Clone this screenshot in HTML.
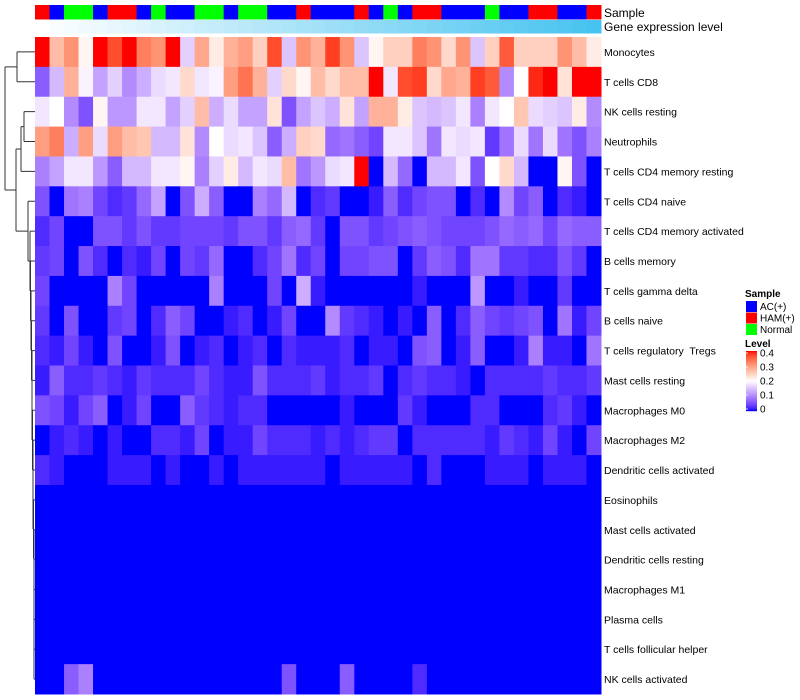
<!DOCTYPE html>
<html><head><meta charset="utf-8"><style>
body{margin:0;background:#fff;}
svg{display:block;font-family:"Liberation Sans",sans-serif;}
text{white-space:pre;}
</style></head><body>
<svg id="chart" width="800" height="700" xmlns="http://www.w3.org/2000/svg"></svg>
<script>
const rowLabels=["Monocytes","T cells CD8","NK cells resting","Neutrophils","T cells CD4 memory resting","T cells CD4 naive","T cells CD4 memory activated","B cells memory","T cells gamma delta","B cells naive","T cells regulatory  Tregs","Mast cells resting","Macrophages M0","Macrophages M2","Dendritic cells activated","Eosinophils","Mast cells activated","Dendritic cells resting","Macrophages M1","Plasma cells","T cells follicular helper","NK cells activated"];
const sampleGroups=["HAM","AC","N","N","AC","HAM","HAM","AC","N","AC","AC","N","N","AC","N","N","AC","AC","HAM","AC","AC","AC","HAM","AC","N","AC","HAM","HAM","AC","AC","AC","N","AC","AC","HAM","HAM","AC","AC","HAM"];
const legendLevels=[0.4,0.3,0.2,0.1,0];
const legendSamples=["AC(+)","HAM(+)","Normal"];
// values in units of 0.01
const r0=[40,27,31,21,40,37,40,33,31,40,16,29,22,28,30,25,37,15,31,28,38,31,15,21,25,25,33,31,24,31,15,25,36,25,25,25,31,27,22];
const r1=[6,14,28,19,12,16,10,13,17,18,24,18,19,30,34,28,16,24,21,27,24,27,27,40,18,37,38,24,29,28,38,36,10,20,39,40,23,40,40];
const r2=[18,20,10,5,21,11,11,18,18,12,16,27,13,17,12,12,23,5,12,15,13,23,12,28,28,22,15,14,15,18,9,18,20,26,17,16,15,22,10];
const r3=[30,33,13,30,17,30,27,26,14,14,23,10,20,17,18,15,6,13,25,24,7,8,6,4,18,18,15,8,18,17,18,3,8,17,8,17,8,5,9];
const r4=[9,12,18,18,11,6,14,14,18,18,21,9,16,22,14,18,17,27,8,11,17,18,40,0,14,7,0,14,14,18,5,20,24,14,0,0,21,5,0];
const r5=[5,0,8,9,4,2,3,7,12,0,5,13,6,0,0,9,7,14,0,2,3,0,0,1,6,2,4,5,5,0,2,0,10,4,6,0,2,1,0];
const r6=[2,4,0,0,5,5,3,5,3,3,4,4,4,3,5,5,3,6,7,3,0,5,5,3,4,5,6,5,4,4,4,5,7,6,7,4,7,6,6];
const r7=[3,4,0,5,2,0,2,1,4,0,4,3,7,0,0,2,4,8,2,4,0,4,4,5,5,0,3,6,5,2,8,8,3,3,2,2,5,3,0];
const r8=[4,0,0,0,0,9,4,0,0,0,0,0,9,0,0,0,4,0,13,1,0,0,0,0,0,0,1,0,0,0,11,0,0,1,0,0,3,0,0];
const r9=[3,0,5,0,0,3,4,0,2,6,4,0,0,1,2,0,1,4,0,0,10,3,2,1,0,1,0,6,0,2,6,4,3,4,5,0,8,1,4];
const r10=[2,1,4,1,0,5,0,0,1,5,0,1,2,0,1,2,0,2,1,1,1,2,0,1,1,0,5,6,0,1,6,0,0,1,9,1,1,0,8];
const r11=[1,6,2,2,3,2,1,3,2,2,2,4,2,1,1,5,2,2,2,3,1,2,2,3,0,2,3,2,2,1,0,2,2,2,2,3,2,2,3];
const r12=[5,4,1,4,6,0,1,4,0,0,6,3,2,1,2,2,0,0,0,0,0,1,0,0,0,3,1,0,0,0,2,2,0,0,0,2,3,1,0];
const r13=[0,1,2,1,0,1,0,0,2,2,1,4,0,1,1,4,2,2,2,1,2,1,2,3,3,0,2,2,2,2,2,1,3,2,1,4,1,0,4];
const r14=[2,1,0,0,0,1,1,1,0,1,0,0,1,0,1,1,1,1,1,1,0,1,1,1,1,1,0,2,0,0,0,1,1,1,0,1,1,1,0];
const r15=Array(39).fill(0),r16=Array(39).fill(0),r17=Array(39).fill(0),r18=Array(39).fill(0),r19=Array(39).fill(0),r20=Array(39).fill(0);
const r21=[0,0,6,9,0,0,0,0,0,0,0,0,0,0,0,0,0,5,0,0,0,6,0,0,0,0,2,0,0,0,0,0,0,0,0,0,0,0,0];
const values=[r0,r1,r2,r3,r4,r5,r6,r7,r8,r9,r10,r11,r12,r13,r14,r15,r16,r17,r18,r19,r20,r21];

const NS="http://www.w3.org/2000/svg",svg=document.getElementById('chart');
function mk(t,a,p){const e=document.createElementNS(NS,t);for(const k in a)e.setAttribute(k,a[k]);(p||svg).appendChild(e);return e;}
const X0=35,X1=601,Y0=37,Y1=694;
const nC=sampleGroups.length,nR=rowLabels.length;
const cw=(X1-X0)/nC,rh=(Y1-Y0)/nR;
const xPos=i=>X0+i*cw, yPos=j=>Y0+j*rh;
function s2l(c){c/=255;return c<=0.04045?c/12.92:Math.pow((c+0.055)/1.055,2.4);}
function l2s(c){c=c<=0.0031308?12.92*c:1.055*Math.pow(c,1/2.4)-0.055;return Math.max(0,Math.min(255,Math.round(c*255)));}
function toLab(r,g,b){r=s2l(r);g=s2l(g);b=s2l(b);let x=(r*0.4124+g*0.3576+b*0.1805)/0.95047,y=r*0.2126+g*0.7152+b*0.0722,z=(r*0.0193+g*0.1192+b*0.9505)/1.08883;const f=t=>t>0.008856?Math.cbrt(t):7.787*t+16/116;x=f(x);y=f(y);z=f(z);return[116*y-16,500*(x-y),200*(y-z)];}
function fromLab(L,a,b){let y=(L+16)/116,x=a/500+y,z=y-b/200;const g=t=>t*t*t>0.008856?t*t*t:(t-16/116)/7.787;x=g(x)*0.95047;y=g(y);z=g(z)*1.08883;const r=x*3.2406+y*-1.5372+z*-0.4986,gg=x*-0.9689+y*1.8758+z*0.0415,bb=x*0.0557+y*-0.2040+z*1.0570;return`rgb(${l2s(r)},${l2s(gg)},${l2s(bb)})`;}
const cBlue=toLab(0,0,255),cWhite=toLab(255,255,255),cRed=toLab(255,0,0);
function col(v){v=Math.max(0,Math.min(0.4,v));let a,b,t;if(v<0.2){a=cBlue;b=cWhite;t=v/0.2;}else{a=cWhite;b=cRed;t=(v-0.2)/0.2;}return fromLab(a[0]+(b[0]-a[0])*t,a[1]+(b[1]-a[1])*t,a[2]+(b[2]-a[2])*t);}
const groupColor={AC:"#0000ff",HAM:"#ff0000",N:"#00ff00"};
const ga=mk('g',{});

const gb=mk('g',{});

for(let i=0;i<nC;i++){
  const r=mk('rect',{x:xPos(i),y:5,width:cw+0.5,height:14.5,fill:groupColor[sampleGroups[i]]},ga);
  
  const t=i/(nC-1);
  const r2=mk('rect',{x:xPos(i),y:20,width:cw+0.5,height:13.5,fill:`rgb(${Math.round(255-185*t)},${Math.round(255-60*t)},${Math.round(255-15*t)})`},gb);
  
}
let tt=mk('text',{x:604,y:17,'font-size':12,fill:'#000'});tt.textContent='Sample';

tt=mk('text',{x:604,y:31,'font-size':12,fill:'#000'});tt.textContent='Gene expression level';

const gh=mk('g',{});

for(let j=0;j<nR;j++){for(let i=0;i<nC;i++){
  const r=mk('rect',{x:xPos(i),y:yPos(j),width:cw+0.5,height:rh+0.5,fill:col(values[j][i]/100)},gh);
  
}
  const l=mk('text',{x:604,y:yPos(j)+rh/2+4,'font-size':10.5,fill:'#000','xml:space':'preserve'});l.textContent=rowLabels[j];
  
}
const yc=j=>yPos(j)+rh/2;
let d='';
function seg(x1,y1,x2,y2){d+=`M${x1},${y1}L${x2},${y2}`;}
function merge(xa,ya,xb,yb,xm){seg(xa,ya,xm,ya);seg(xb,yb,xm,yb);seg(xm,ya,xm,yb);return (ya+yb)/2;}
let cy=yc(21),cx=35;
const chainX=[34,34,34,34,34,33.5,33,33,32.5,32,32,31.5,31,30.5,30];
for(let j=20,k=0;j>=6;j--,k++){const xm=chainX[k];cy=merge(35,yc(j),cx,cy,xm);cx=xm;}
const low=merge(35,yc(5),cx,cy,28);
const A=merge(35,yc(2),35,yc(3),24);
const B=merge(24,A,35,yc(4),21);
const C=merge(21,B,28,low,16);
const M=merge(35,yc(0),35,yc(1),17);
merge(17,M,16,C,5);
const dp=mk('path',{d:d,stroke:'#333',fill:'none','stroke-width':1});

const gl=mk('g',{});

let t2=mk('text',{x:745,y:297,'font-size':10,'font-weight':'bold'},gl);t2.textContent='Sample';

const lc=["#0000ff","#ff0000","#00ff00"];
legendSamples.forEach((s,k)=>{
  const r=mk('rect',{x:746,y:301+k*11.5,width:11,height:11,fill:lc[k]},gl);
  
  const t=mk('text',{x:760,y:310+k*11.5,'font-size':10},gl);t.textContent=s;
  
});
t2=mk('text',{x:745,y:347,'font-size':10,'font-weight':'bold'},gl);t2.textContent='Level';

const ly0=351,ly1=411;
for(let k=0;k<60;k++){const v=0.4*(1-k/59);const r=mk('rect',{x:746,y:ly0+k,width:11,height:1.2,fill:col(v)},gl);
  }
legendLevels.forEach(v=>{const y=ly0+2+(0.4-v)/0.4*(ly1-ly0-4);
  const ln=mk('line',{x1:746,x2:748,y1:y,y2:y,stroke:'#fff','stroke-width':0.8},gl);
  
  const t=mk('text',{x:760,y:y+3.5,'font-size':10},gl);t.textContent=String(v);
  });
</script>
</body></html>
